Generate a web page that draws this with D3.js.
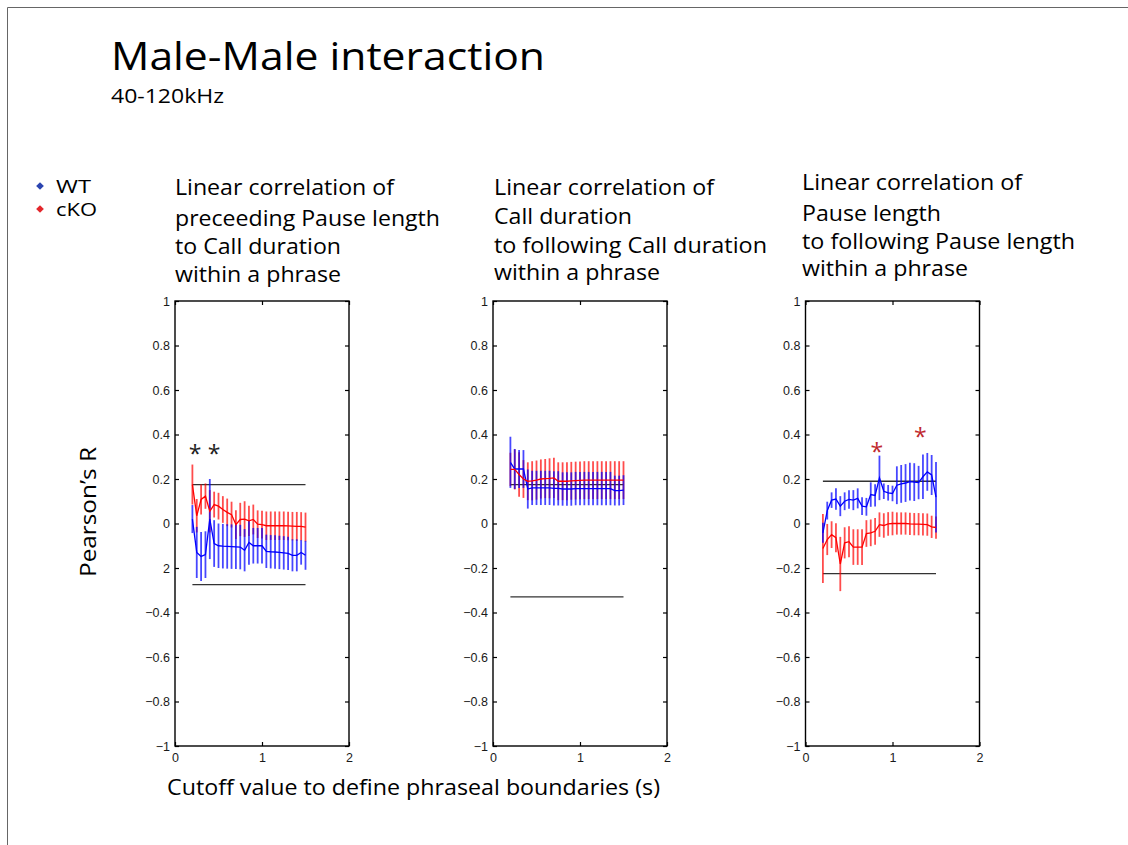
<!DOCTYPE html>
<html>
<head>
<meta charset="utf-8">
<script src="https://cdn.jsdelivr.net/npm/d3@7"></script>
<style>
  body { margin: 0; background: #fff; }
  svg { display: block; }
</style>
</head>
<body>
<svg id="chart" width="1128" height="845"></svg>
<script>
// Cutoff values (s) used to split calls into phrases
const cutoffs = [0.2, 0.25, 0.3, 0.35, 0.4, 0.45, 0.5, 0.55, 0.6, 0.65, 0.7, 0.75, 0.8, 0.85,
                 0.9, 0.95, 1.0, 1.05, 1.1, 1.15, 1.2, 1.25, 1.3, 1.35, 1.4, 1.45, 1.5];

// Panel 1: preceding pause length vs call duration
const wtMean1 = [0.02, -0.13, -0.148, -0.14, 0.02, -0.09, -0.1, -0.102, -0.103, -0.104, -0.105, -0.106, -0.12, -0.085,
                 -0.1, -0.1, -0.1, -0.125, -0.127, -0.128, -0.13, -0.132, -0.134, -0.143, -0.143, -0.13, -0.143];
const wtErr1  = [0.063, 0.115, 0.11, 0.105, 0.18, 0.105, 0.1, 0.1, 0.1, 0.1, 0.1, 0.1, 0.095, 0.1,
                 0.08, 0.08, 0.08, 0.075, 0.075, 0.075, 0.075, 0.075, 0.075, 0.072, 0.072, 0.055, 0.065];
const koMean1 = [0.175, 0.035, 0.108, 0.123, 0.055, 0.085, 0.078, 0.063, 0.05, 0.04, -0.005, 0.018, 0.02, 0.012,
                 0.018, -0.003, -0.005, -0.01, -0.01, -0.01, -0.01, -0.01, -0.011, -0.012, -0.013, -0.013, -0.016];
const koErr1  = [0.09, 0.075, 0.067, 0.057, 0.095, 0.058, 0.06, 0.06, 0.062, 0.058, 0.065, 0.075, 0.08, 0.068,
                 0.067, 0.062, 0.062, 0.064, 0.064, 0.064, 0.064, 0.064, 0.064, 0.064, 0.065, 0.064, 0.065];
const bounds1 = [0.175, -0.275];

// Panel 2: call duration vs following call duration
const wtMean2 = [0.275, 0.245, 0.245, 0.245, 0.155, 0.16, 0.16, 0.16, 0.16, 0.16, 0.158, 0.158, 0.155, 0.155,
                 0.155, 0.157, 0.157, 0.157, 0.157, 0.157, 0.157, 0.157, 0.157, 0.157, 0.148, 0.148, 0.15];
const wtErr2  = [0.115, 0.09, 0.085, 0.085, 0.088, 0.077, 0.077, 0.077, 0.077, 0.077, 0.077, 0.077, 0.075, 0.075,
                 0.075, 0.075, 0.075, 0.075, 0.075, 0.075, 0.075, 0.075, 0.075, 0.075, 0.067, 0.067, 0.067];
const koMean2 = [0.243, 0.243, 0.22, 0.2, 0.19, 0.192, 0.195, 0.2, 0.202, 0.203, 0.205, 0.19, 0.19, 0.19,
                 0.192, 0.193, 0.194, 0.195, 0.195, 0.195, 0.195, 0.195, 0.195, 0.195, 0.195, 0.195, 0.195];
const koErr2  = [0.075, 0.09, 0.1, 0.085, 0.085, 0.088, 0.088, 0.088, 0.088, 0.09, 0.09, 0.085, 0.085, 0.085,
                 0.085, 0.085, 0.085, 0.085, 0.085, 0.085, 0.085, 0.085, 0.085, 0.085, 0.085, 0.085, 0.085];
const bounds2 = [0.175, -0.33];

// Panel 3: pause length vs following pause length
const wtMean3 = [-0.042, 0.058, 0.105, 0.11, 0.078, 0.1, 0.108, 0.105, 0.113, 0.078, 0.075, 0.13, 0.126, 0.205,
                 0.145, 0.138, 0.135, 0.172, 0.178, 0.182, 0.188, 0.186, 0.184, 0.21, 0.232, 0.218, 0.118];
const wtErr3  = [0.045, 0.04, 0.035, 0.048, 0.045, 0.04, 0.042, 0.045, 0.045, 0.04, 0.04, 0.055, 0.05, 0.1,
                 0.035, 0.035, 0.035, 0.085, 0.085, 0.085, 0.085, 0.085, 0.075, 0.1, 0.085, 0.09, 0.158];
const koMean3 = [-0.112, -0.072, -0.05, -0.064, -0.182, -0.087, -0.082, -0.106, -0.106, -0.106, -0.045, -0.042, -0.035, -0.005,
                 -0.009, -0.002, 0, 0, 0, 0, -0.002, -0.003, -0.003, -0.004, -0.005, -0.015, -0.018];
const koErr3  = [0.155, 0.07, 0.06, 0.065, 0.122, 0.07, 0.07, 0.08, 0.08, 0.08, 0.06, 0.06, 0.06, 0.055,
                 0.055, 0.053, 0.053, 0.05, 0.05, 0.05, 0.05, 0.05, 0.05, 0.05, 0.05, 0.05, 0.05];
const bounds3 = [0.19, -0.225];

// Axis ticks
const yTicks = [1, 0.8, 0.6, 0.4, 0.2, 0, -0.2, -0.4, -0.6, -0.8, -1];
const yTickLabels1 = ["1", "0.8", "0.6", "0.4", "0.2", "0", "2", "\u22120.4", "\u22120.6", "\u22120.8", "\u22121"];
const yTickLabels  = ["1", "0.8", "0.6", "0.4", "0.2", "0", "\u22120.2", "\u22120.4", "\u22120.6", "\u22120.8", "\u22121"];
const xTicks = [0, 1, 2];
const xTickLabels = ["0", "1", "2"];

// Text
const titleText = "Male-Male interaction";
const subtitleText = "40-120kHz";
const legendLabels = ["WT", "cKO"];
const panelTitles = [
  ["Linear correlation of", "preceeding Pause length", "to Call duration", "within a phrase"],
  ["Linear correlation of", "Call duration", "to following Call duration", "within a phrase"],
  ["Linear correlation of", "Pause length", "to following Pause length", "within a phrase"]
];
const yAxisTitle = "Pearson\u2019s R";
const xAxisTitle = "Cutoff value to define phraseal boundaries (s)";

// Significance markers: [cutoff, r]
const stars1 = [[0.23, 0.335], [0.45, 0.335]];
const stars3 = [[0.82, 0.346], [1.32, 0.41]];

const WT_COLOR = "#0000ff";
const KO_COLOR = "#ff0000";
const TEXT_FONT = "'Open Sans', Lato, sans-serif";
const TICK_FONT = "'Liberation Sans', Arial, sans-serif";

const svg = d3.select("#chart");

// Text helper: font size plus the horizontal run the text should fill
function label(parent, str, x, y, size, run, attrs = {}) {
  const t = parent.append("text").attr("x", x).attr("y", y)
    .attr("font-family", TEXT_FONT).attr("font-size", size).attr("fill", "#000")
    .text(str);
  if (run) t.attr("textLength", run).attr("lengthAdjust", "spacingAndGlyphs");
  Object.entries(attrs).forEach(([k, v]) => t.attr(k, v));
  return t;
}

// Slide frame
svg.append("path")
  .attr("d", "M7.5,845V7.5H1128")
  .attr("fill", "none").attr("stroke", "#666").attr("stroke-width", 1);

// Heading
label(svg, titleText, 111, 70, 39, 434);
label(svg, subtitleText, 111, 103, 19.5, 113);

// Legend (square markers turned 45 degrees)
const legendColors = ["#2b45b0", "#e3262b"];
const legendRuns = [35, 41];
legendLabels.forEach((lab, i) => {
  const cy = 186 + i * 23;
  svg.append("path")
    .attr("d", d3.symbol(d3.symbolSquare, 30)())
    .attr("transform", `translate(40,${cy}) rotate(45)`)
    .attr("fill", legendColors[i]);
  label(svg, lab, 56, cy + 7, 17.5, legendRuns[i]);
});

const panels = [
  { left: 175, wt: wtMean1, wtE: wtErr1, ko: koMean1, koE: koErr1, bounds: bounds1, yLabels: yTickLabels1,
    titles: panelTitles[0], runs: [219, 265, 166, 166],
    titleX: 175, titleY: [195, 226, 254, 282], stars: stars1, starColor: "#222" },
  { left: 493, wt: wtMean2, wtE: wtErr2, ko: koMean2, koE: koErr2, bounds: bounds2, yLabels: yTickLabels,
    titles: panelTitles[1], runs: [220, 138, 273, 166],
    titleX: 494, titleY: [195, 224, 253, 280], stars: [], starColor: "#222" },
  { left: 805.5, wt: wtMean3, wtE: wtErr3, ko: koMean3, koE: koErr3, bounds: bounds3, yLabels: yTickLabels,
    titles: panelTitles[2], runs: [220, 139, 273, 166],
    titleX: 802, titleY: [190, 221, 249, 276], stars: stars3, starColor: "#c0282e" }
];

const TOP = 301, BOTTOM = 746, WIDTH = 174;

panels.forEach(p => {
  const x = d3.scaleLinear().domain([0, 2]).range([p.left, p.left + WIDTH]);
  const y = d3.scaleLinear().domain([-1, 1]).range([BOTTOM, TOP]);
  const g = svg.append("g");

  // Panel title
  p.titles.forEach((line, i) => label(svg, line, p.titleX, p.titleY[i], 22, p.runs[i]));

  // Axes with inward ticks
  const left = g.append("g").attr("transform", `translate(${x(0)},0)`)
    .call(d3.axisLeft(y).tickValues(yTicks).tickSizeInner(-4).tickSizeOuter(0).tickPadding(5)
      .tickFormat((d, i) => p.yLabels[i]));
  const right = g.append("g").attr("transform", `translate(${x(2)},0)`)
    .call(d3.axisRight(y).tickValues(yTicks).tickSizeInner(-4).tickSizeOuter(0).tickFormat(""));
  const bottom = g.append("g").attr("transform", `translate(0,${y(-1)})`)
    .call(d3.axisBottom(x).tickValues(xTicks).tickSizeInner(-4).tickSizeOuter(0).tickPadding(7)
      .tickFormat((d, i) => xTickLabels[i]));
  const top = g.append("g").attr("transform", `translate(0,${y(1)})`)
    .call(d3.axisTop(x).tickValues(xTicks).tickSizeInner(-4).tickSizeOuter(0).tickFormat(""));
  [left, right, bottom, top].forEach(a => {
    a.select(".domain").remove();
    a.selectAll(".tick line").attr("stroke", "#000").attr("stroke-width", 1.2);
    a.selectAll(".tick text").attr("font-family", TICK_FONT).attr("font-size", 12.5).attr("fill", "#1a1a1a");
  });

  // Axes box
  g.append("rect")
    .attr("x", x(0)).attr("y", y(1))
    .attr("width", x(2) - x(0)).attr("height", y(-1) - y(1))
    .attr("fill", "none").attr("stroke", "#000").attr("stroke-width", 1.4);

  // Reference bounds
  p.bounds.forEach(b => {
    g.append("line")
      .attr("x1", x(cutoffs[0])).attr("x2", x(cutoffs[cutoffs.length - 1]))
      .attr("y1", y(b)).attr("y2", y(b))
      .attr("stroke", "#333").attr("stroke-width", 1.3);
  });

  // Error bars
  const bars = (means, errs, color, op) => {
    g.append("g").selectAll("line").data(cutoffs).join("line")
      .attr("x1", d => x(d)).attr("x2", d => x(d))
      .attr("y1", (d, i) => y(means[i] - errs[i]))
      .attr("y2", (d, i) => y(means[i] + errs[i]))
      .attr("stroke", color).attr("stroke-opacity", op).attr("stroke-width", 1.8);
  };
  bars(p.ko, p.koE, KO_COLOR, 0.7);
  bars(p.wt, p.wtE, WT_COLOR, 0.72);

  // Mean lines
  const line = vals => d3.line().x(d => x(d)).y((d, i) => y(vals[i]))(cutoffs);
  g.append("path").attr("d", line(p.wt)).attr("fill", "none")
    .attr("stroke", WT_COLOR).attr("stroke-width", 1.3);
  g.append("path").attr("d", line(p.ko)).attr("fill", "none")
    .attr("stroke", KO_COLOR).attr("stroke-width", 1.3);

  // Significance stars
  p.stars.forEach(s => {
    g.append("text").attr("x", x(s[0])).attr("y", y(s[1]) + 13)
      .attr("text-anchor", "middle")
      .attr("font-family", TEXT_FONT).attr("font-size", 23).attr("fill", p.starColor)
      .text("*");
  });
});

// Shared axis titles
label(svg, yAxisTitle, 0, 0, 22, 130,
  { transform: "translate(96,512) rotate(-90)", "text-anchor": "middle" });
label(svg, xAxisTitle, 167, 795, 22, 493);
</script>
</body>
</html>
